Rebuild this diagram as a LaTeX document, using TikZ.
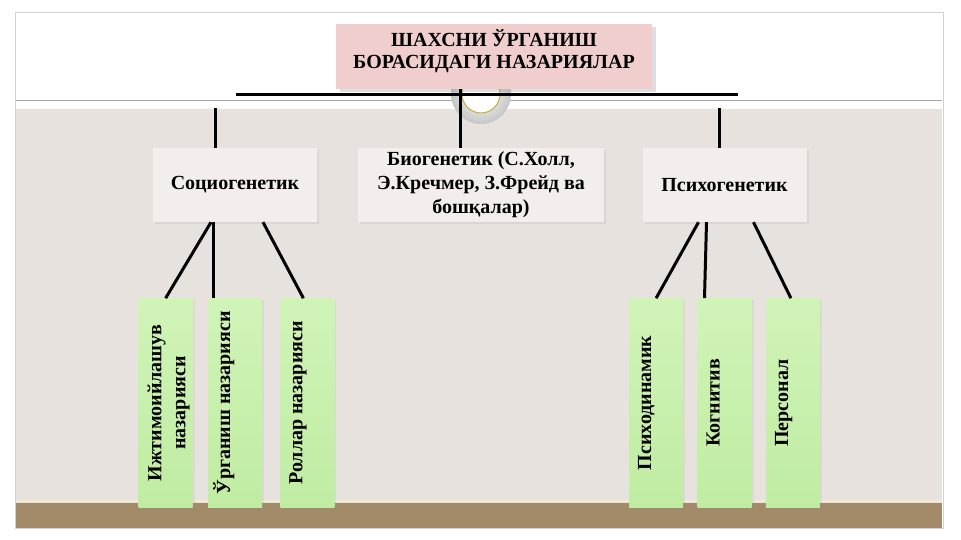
\documentclass[tikz,border=0pt]{standalone}
\usepackage{fontspec}
\setmainfont{Liberation Serif}
\usetikzlibrary{positioning,shadows}

\definecolor{slidebg}{RGB}{232,226,222}
\definecolor{bandbrown}{RGB}{163,139,106}
\definecolor{bandcream}{RGB}{240,234,214}
\definecolor{headpink}{RGB}{240,206,205}
\definecolor{groupfill}{RGB}{243,238,235}
\definecolor{leaftop}{RGB}{208,244,184}
\definecolor{leafbottom}{RGB}{192,236,162}

\begin{document}
\begin{tikzpicture}[x=1pt, y=-1pt, node distance=76pt,
    font=\fontsize{20}{24}\selectfont\bfseries]
\tikzstyle{headbox}=[fill=headpink, minimum width=316pt, minimum height=65pt, align=center, inner sep=2pt,
    text depth=16pt, font=\fontsize{20}{22}\selectfont\bfseries,
    drop shadow={shadow xshift=4pt, shadow yshift=-3pt, opacity=.25}]
\tikzstyle{groupbox}=[fill=groupfill, minimum width=164pt, minimum height=74pt, align=center, inner sep=2pt,
    drop shadow={shadow xshift=2pt, shadow yshift=-2pt, opacity=.12}]
\tikzstyle{leafbox}=[top color=leaftop, bottom color=leafbottom, minimum width=54pt, minimum height=209pt, inner sep=0pt,
    drop shadow={shadow xshift=2pt, shadow yshift=-2pt, opacity=.1}]
\tikzstyle{leaftext}=[rotate=90, anchor=north, align=center, inner sep=0pt]
\tikzstyle{branch}=[line width=3pt, black]

% slide background
\fill[white] (0,0) rectangle (961,540);
\fill[slidebg] (16,109) rectangle (942,503);
\draw[gray!70] (16,100) -- (942,100);
\fill[bandbrown] (16,503) rectangle (942,528);
\draw[bandcream, line width=2pt] (16,501) -- (942,501);
\draw[gray!35] (15,12) rectangle (943,528);
\shade[inner color=white, outer color=gray!45] (481,94) circle (30);
\fill[white] (481,94) circle (19);
\draw[brown!50!yellow!70!gray, line width=1pt] (481,94) circle (19);

% nodes
\node[headbox]  (head) at (494,56.5) {ШАХСНИ ЎРГАНИШ\\БОРАСИДАГИ НАЗАРИЯЛАР};
\node[groupbox] (soc)  at (235,185)  {Социогенетик};
\node[groupbox, minimum width=246pt] (bio) at (481,185) {Биогенетик (С.Холл,\\Э.Кречмер, З.Фрейд ва\\бошқалар)};
\node[groupbox] (psy)  at (724.5,185) {Психогенетик};

\node[leafbox]  (soc2) [below=of soc]        {};
\node[leafbox]  (soc1) [left=15pt of soc2]   {};
\node[leafbox]  (soc3) [right=18pt of soc2]  {};
\node[leafbox]  (psy2) [below=of psy]        {};
\node[leafbox]  (psy1) [left=14pt of psy2]   {};
\node[leafbox]  (psy3) [right=14pt of psy2]  {};

\node[leaftext] (soc1t) at ([xshift=9pt]soc1.west) {Ижтимоийлашув\\назарияси};
\node[leaftext] (soc2t) at ([xshift=5pt]soc2.west) {Ўрганиш назарияси};
\node[leaftext] (soc3t) at ([xshift=9pt]soc3.west) {Роллар назарияси};
\node[leaftext] (psy1t) at ([xshift=9pt]psy1.west) {Психодинамик};
\node[leaftext] (psy2t) at ([xshift=9pt]psy2.west) {Когнитив};
\node[leaftext] (psy3t) at ([xshift=9pt]psy3.west) {Персонал};

% connectors
\coordinate (barL) at (236,95);
\coordinate (barR) at (738,95);
\coordinate (jM)   at (460,95);
\coordinate (jL)   at (215,108);
\coordinate (jR)   at (719,108);
\draw[branch] (barL) -- (barR);
\draw[branch] (head.south -| jM) -- (bio.north -| jM);
\draw[branch] (jL) -- (jL |- soc.north);
\draw[branch] (jR) -- (jR |- psy.north);
\path[branch]
([xshift=-24pt]soc.south) edge (soc1.north)
([xshift=-22pt]soc.south) edge ([xshift=-22pt]soc2.north)
([xshift=28pt]soc.south)  edge ([xshift=-4pt]soc3.north)
([xshift=-26pt]psy.south) edge (psy1.north)
([xshift=-18pt]psy.south) edge ([xshift=-20pt]psy2.north)
([xshift=29pt]psy.south)  edge ([xshift=-2pt]psy3.north);
\end{tikzpicture}
\end{document}
